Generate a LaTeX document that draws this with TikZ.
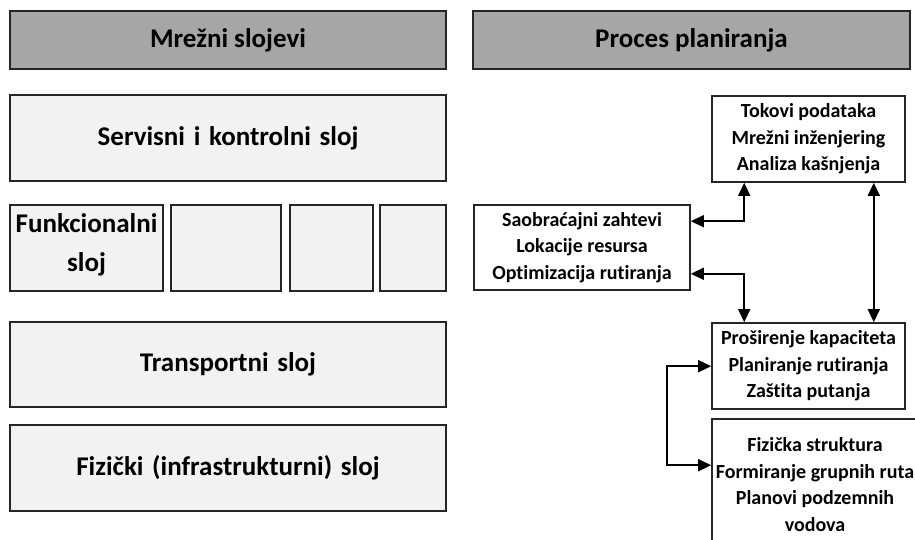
\documentclass[tikz,border=0pt]{standalone}
\usepackage{fontspec}
\setmainfont{Carlito}[Ligatures=NoCommon]
\usetikzlibrary{arrows.meta}
\definecolor{headgray}{HTML}{A6A6A6}
\definecolor{layergray}{HTML}{F2F2F2}
\definecolor{edge}{HTML}{262626}
\newcommand\widerspaces{\spaceskip=0.32em plus 0.1em\relax}
\tikzset{
  header/.style={draw=edge, line width=1.6pt, fill=headgray, inner sep=0pt,
    font=\fontsize{27}{30}\selectfont\bfseries},
  layer/.style={draw=edge, line width=1.4pt, fill=layergray, inner sep=0pt,
    align=center, font=\fontsize{27}{39}\selectfont\bfseries\widerspaces},
  layertext/.style={inner sep=0pt, align=center,
    font=\fontsize{27}{39}\selectfont\bfseries},
  task/.style={draw=edge, line width=1.6pt, fill=white, inner sep=0pt,
    align=center, font=\fontsize{20}{26.5}\selectfont\bfseries},
  link/.style={draw=black, line width=1.5pt, {Triangle[length=13pt,width=12pt]}-{Triangle[length=13pt,width=12pt]}}
}
\begin{document}
\begin{tikzpicture}[x=1pt,y=-1pt]
\useasboundingbox (0,0) rectangle (915,540);
\clip (0,0) rectangle (915,540);
\fill[white] (0,0) rectangle (915,540);

% network layers
\node[header, minimum width=436pt, minimum height=58pt] (hl) at (228,40) {Mrežni slojevi};
\node[layer, minimum width=436pt, minimum height=86pt] (svc) at (228,138) {Servisni i kontrolni sloj};
\node[layer, minimum width=153pt, minimum height=86pt] (f1) at (86.5,248) {};
\node[layertext] (f1label) at ([yshift=3pt]f1.center) {Funkcionalni\\sloj};
\node[layer, minimum width=110pt, minimum height=86pt] (f2) at (226,248) {};
\node[layer, minimum width=83pt, minimum height=86pt] (f3) at (331.5,248) {};
\node[layer, minimum width=66pt, minimum height=86pt] (f4) at (413,248) {};
\node[layer, minimum width=436pt, minimum height=85pt] (trn) at (228,364.5) {Transportni sloj};
\node[layer, minimum width=436pt, minimum height=86pt] (phy) at (228,468) {Fizički (infrastrukturni) sloj};

% planning process
\node[header, minimum width=437pt, minimum height=58pt] (hr) at (691.5,40) {Proces planiranja};
\node[task, minimum width=193pt, minimum height=86pt] (tok) at (808.5,139)
  {Tokovi podataka\\Mrežni inženjering\\Analiza kašnjenja};
\node[task, minimum width=216pt, minimum height=85pt] (sao) at (582,247.5)
  {Saobraćajni zahtevi\\Lokacije resursa\\Optimizacija rutiranja};
\node[task, minimum width=193pt, minimum height=86pt] (pro) at (808.5,366)
  {Proširenje kapaciteta\\Planiranje rutiranja\\Zaštita putanja};
\node[task, minimum width=206pt, minimum height=131pt] (fiz) at (815,484.5)
  {Fizička struktura\\Formiranje grupnih ruta\\Planovi podzemnih\\vodova};

% connectors
\draw[link] ([yshift=-17pt]sao.north east) -| ([xshift=33pt]tok.south west);
\draw[link] ([yshift=17pt]sao.south east) -| ([xshift=33pt]pro.north west);
\draw[link] ([xshift=-32pt]tok.south east) -- ([xshift=-32pt]pro.north east);
\coordinate (bend) at ([xshift=-44pt]pro.west);
\draw[link] ([yshift=-44pt]pro.north west) -| ([yshift=-47pt]fiz.north west -| bend) -- ([yshift=-47pt]fiz.north west);
\end{tikzpicture}
\end{document}
